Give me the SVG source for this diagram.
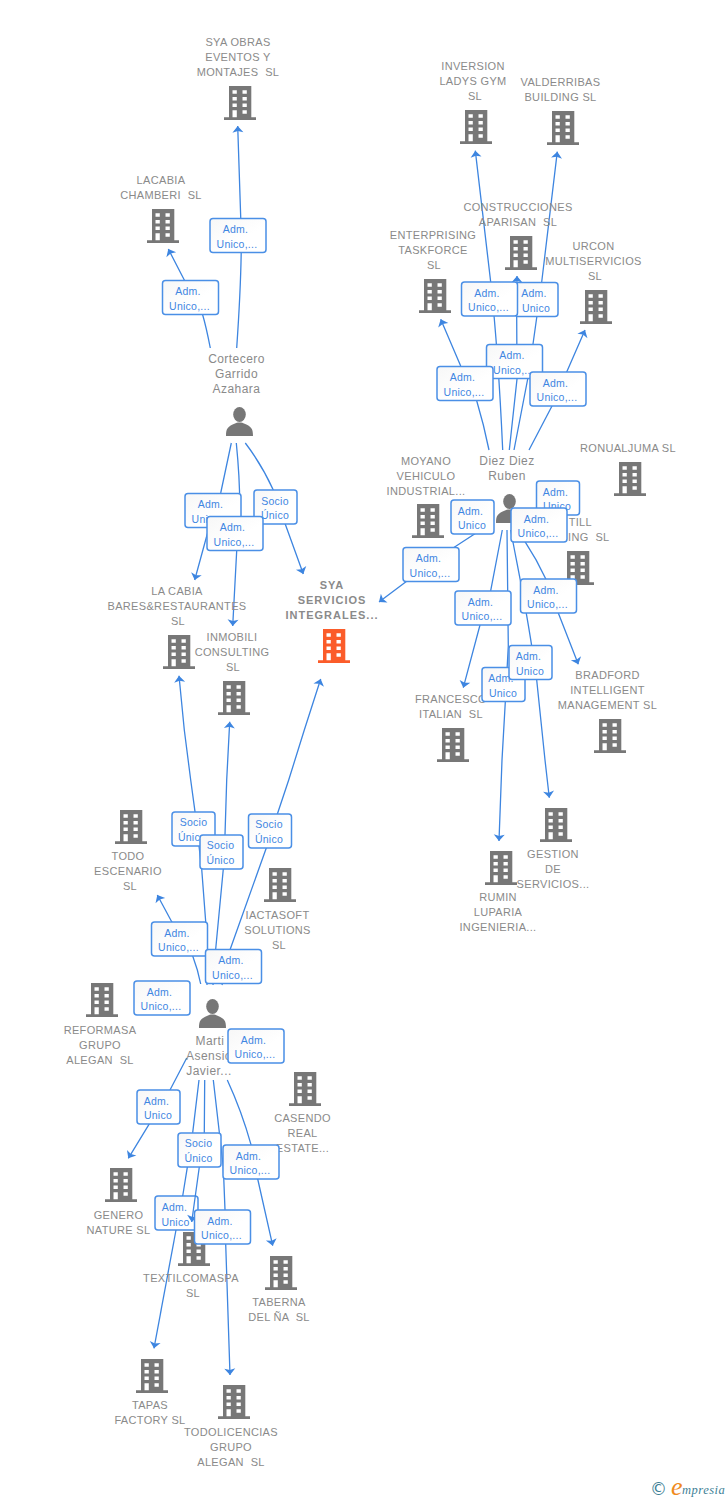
<svg xmlns="http://www.w3.org/2000/svg" width="728" height="1500" viewBox="0 0 728 1500">
<style>
text{font-family:"Liberation Sans",Arial,sans-serif;white-space:pre}
.l{font-size:11px;fill:#8a8a8a;text-anchor:middle;letter-spacing:.33px}
.p{font-size:12px;fill:#8a8a8a;text-anchor:middle;letter-spacing:.45px}
.m{font-size:11px;fill:#8a8a8a;text-anchor:middle;font-weight:bold;letter-spacing:1px}
.e{fill:none;stroke:#3d85e0;stroke-width:1.3;marker-end:url(#a)}
.s{fill:none;stroke:#3d85e0;stroke-width:1.3}
.b{fill:url(#g);stroke:#4a8fe6;stroke-width:1.5}
.t{font-size:10.500px;fill:#3f86e2;text-anchor:middle;letter-spacing:.25px}
.i{fill:#777}
.o{fill:#fb5c2a}
</style>
<defs>
<linearGradient id="g" x1="0" y1="0" x2="1" y2="1"><stop offset="0" stop-color="#f7f7f7"/><stop offset=".6" stop-color="#fff"/></linearGradient>
<marker id="a" markerUnits="userSpaceOnUse" viewBox="-10 -7 14 14" refX="0" refY="0" markerWidth="14" markerHeight="14" orient="auto"><path d="M0 0L-6.5-5.500L-5 0L-6.5 5.500Z" fill="#3d85e0"/></marker>
<symbol id="b" viewBox="0 0 32 34" width="32" height="34" overflow="visible"><path fill-rule="evenodd" d="M5 0H27.3V31.300H32V34H0V31.300H5ZM8.500 4.200V7.800H12.800V4.200ZM18.500 4.200V7.800H22.800V4.200ZM8.500 10.900V14.500H12.800V10.900ZM18.500 10.900V14.500H22.800V10.900ZM8.500 17.500V21.100H12.800V17.500ZM18.500 17.500V21.100H22.800V17.500ZM8.500 24.200V31.300H12.800V24.200ZM18.500 24.200V27.800H22.800V24.200Z"/></symbol>
<symbol id="h" viewBox="0 0 27 29" width="27" height="29"><ellipse cx="13.500" cy="7.500" rx="6.300" ry="7.500"/><path d="M0 29C0 21 2 19.500 9 16.500C10 15 17 15 18 16.500C25 19.500 27 21 27 29Z"/></symbol>
</defs>
<rect width="728" height="1500" fill="#fff"/>

<g id="label-under">
<g id="lb-tapas"><rect class="b" x="155" y="1196" width="43" height="34" rx="3"/><text class="t" x="174.500" y="1211">Adm.</text><text class="t" x="175.500" y="1225.500">Unico</text></g>
</g>

<g id="connectors">
<path class="e" d="M236.700 348C240 300 241.500 270 241.300 235L237.700 126"/>
<path class="e" d="M210.300 348Q206 326 202.700 315L184.300 280L168.300 249"/>
<path class="e" d="M502.700 450C500 390 497 340 490.700 282L475.300 150.700"/>
<path class="e" d="M514 450L527.700 379L533 344L541.700 282L557.300 151.700"/>
<path class="e" d="M509.300 450L517 379L516.700 317L517 276"/>
<path class="e" d="M489 450Q484 425 476.700 400.700L460.700 366L440.700 319.300"/>
<path class="e" d="M529 450L552 406L566.700 372L585 330"/>
<path class="e" d="M480.700 530L455 546.700L406 581.700L379 602"/>
<path class="e" d="M502.300 530L490.700 590.700L480 625L463.300 687.700"/>
<path class="e" d="M507 530L508.300 646L505.300 702L502 760L499 841"/>
<path class="e" d="M510.700 530C520 580 528 615 536.700 680L545 760L549.300 797.700"/>
<path class="e" d="M525 541.700Q537 560 545.700 578.700L558.300 613L578.300 664.300"/>
<path class="e" d="M231.300 443L220.700 493L207 535L194.700 580"/>
<path class="e" d="M236.300 443Q240 480 239.700 510L236.700 550.700L232.700 626"/>
<path class="e" d="M245.300 443Q262 465 273.300 490L285.300 524.300L303.300 574"/>
<path class="e" d="M207 985L205.700 921.700L201.700 869L195 811.700L190.700 780L184.300 730L179 675.700"/>
<path class="e" d="M213 985L215.700 949L223.300 869L225 834.700L226.700 780L229.700 721.700"/>
<path class="e" d="M222 985L230.300 949L266.300 848L277.700 813L288.700 780L304.300 730L320.700 679"/>
<path class="e" d="M200.700 984Q198 970 192.700 956L171.700 921.700L157.300 895"/>
<path class="e" d="M186.700 1058L170 1090L149 1124.300L128.300 1158.300"/>
<path class="s" d="M199 1080L192.700 1132.700L187.300 1167.300L182.700 1196"/>
<path class="e" d="M176 1230L154 1348.300"/>
<path class="e" d="M204.700 1080L204.300 1132.700L199.300 1167L191.700 1222"/>
<path class="e" d="M213.300 1080L223.300 1167L225 1209.700L225.700 1244L230 1375"/>
<path class="e" d="M227.300 1080Q242 1112 251 1144.700L257.700 1179L272.700 1245.700"/>
</g>

<g id="n-sya-obras"><use href="#b" class="i" x="224" y="86"/><text class="l"><tspan x="238" y="46">SYA OBRAS</tspan><tspan x="238" y="61">EVENTOS Y</tspan><tspan x="238" y="76">MONTAJES  SL</tspan></text></g>
<g id="n-lacabia"><use href="#b" class="i" x="147" y="209"/><text class="l"><tspan x="161" y="184">LACABIA</tspan><tspan x="161" y="199">CHAMBERI  SL</tspan></text></g>
<g id="n-cortecero"><use href="#h" class="i" x="226" y="407"/><text class="p"><tspan x="236.500" y="363">Cortecero</tspan><tspan x="236.500" y="378">Garrido</tspan><tspan x="236.500" y="393">Azahara</tspan></text></g>
<g id="n-inversion"><use href="#b" class="i" x="460" y="110"/><text class="l"><tspan x="473" y="70">INVERSION</tspan><tspan x="473" y="85">LADYS GYM</tspan><tspan x="475" y="100">SL</tspan></text></g>
<g id="n-valderribas"><use href="#b" class="i" x="547" y="111"/><text class="l"><tspan x="560.500" y="86">VALDERRIBAS</tspan><tspan x="560.500" y="101">BUILDING SL</tspan></text></g>
<g id="n-construcciones"><use href="#b" class="i" x="505" y="236"/><text class="l"><tspan x="518" y="211">CONSTRUCCIONES</tspan><tspan x="518" y="226">APARISAN  SL</tspan></text></g>
<g id="n-enterprising"><use href="#b" class="i" x="419" y="279"/><text class="l"><tspan x="433" y="239">ENTERPRISING</tspan><tspan x="433" y="254">TASKFORCE</tspan><tspan x="434" y="269">SL</tspan></text></g>
<g id="n-urcon"><use href="#b" class="i" x="580" y="290"/><text class="l"><tspan x="593.500" y="250">URCON</tspan><tspan x="593.500" y="265">MULTISERVICIOS</tspan><tspan x="595" y="280">SL</tspan></text></g>
<g id="n-ronualjuma"><use href="#b" class="i" x="614" y="462"/><text class="l"><tspan x="628" y="452">RONUALJUMA SL</tspan></text></g>
<g id="n-moyano"><use href="#b" class="i" x="412" y="504"/><text class="l"><tspan x="426" y="465">MOYANO</tspan><tspan x="426" y="480">VEHICULO</tspan><tspan x="426" y="495">INDUSTRIAL...</tspan></text></g>
<g id="n-diez"><use href="#h" class="i" x="496" y="494"/><text class="p"><tspan x="507" y="465">Diez Diez</tspan><tspan x="507" y="480">Ruben</tspan></text></g>
<g id="n-till"><use href="#b" class="i" x="562" y="551"/><text class="l" style="text-anchor:end"><tspan x="592" y="526">TILL</tspan><tspan x="609.500" y="541">ING  SL</tspan></text></g>
<g id="n-bradford"><use href="#b" class="i" x="594" y="719"/><text class="l"><tspan x="607.500" y="679">BRADFORD</tspan><tspan x="607.500" y="694">INTELLIGENT</tspan><tspan x="607.500" y="709">MANAGEMENT SL</tspan></text></g>
<g id="n-francesco"><use href="#b" class="i" x="437" y="728"/><text class="l"><tspan x="451" y="703">FRANCESCO</tspan><tspan x="451" y="718">ITALIAN  SL</tspan></text></g>
<g id="n-rumin"><use href="#b" class="i" x="485" y="851"/><text class="l"><tspan x="498" y="901">RUMIN</tspan><tspan x="498" y="916">LUPARIA</tspan><tspan x="498" y="931">INGENIERIA...</tspan></text></g>
<g id="n-gestion"><use href="#b" class="i" x="540" y="808"/><text class="l"><tspan x="553" y="858">GESTION</tspan><tspan x="553" y="873">DE</tspan><tspan x="553" y="888">SERVICIOS...</tspan></text></g>
<g id="n-sya-main"><use href="#b" class="o" x="318" y="629"/><text class="m"><tspan x="332" y="589">SYA</tspan><tspan x="332" y="604">SERVICIOS</tspan><tspan x="332" y="619">INTEGRALES...</tspan></text></g>
<g id="n-la-cabia"><use href="#b" class="i" x="163" y="635"/><text class="l"><tspan x="177" y="595">LA CABIA</tspan><tspan x="177" y="610">BARES&amp;RESTAURANTES</tspan><tspan x="178" y="625">SL</tspan></text></g>
<g id="n-inmobili"><use href="#b" class="i" x="218" y="681"/><text class="l"><tspan x="232" y="641">INMOBILI</tspan><tspan x="232" y="656">CONSULTING</tspan><tspan x="233" y="671">SL</tspan></text></g>
<g id="n-todo"><use href="#b" class="i" x="115" y="810"/><text class="l"><tspan x="128" y="860">TODO</tspan><tspan x="128" y="875">ESCENARIO</tspan><tspan x="130" y="890">SL</tspan></text></g>
<g id="n-iactasoft"><use href="#b" class="i" x="264" y="868"/><text class="l"><tspan x="277.500" y="919">IACTASOFT</tspan><tspan x="277.500" y="934">SOLUTIONS</tspan><tspan x="279" y="949">SL</tspan></text></g>
<g id="n-reformasa"><use href="#b" class="i" x="86" y="983"/><text class="l"><tspan x="100" y="1034">REFORMASA</tspan><tspan x="100" y="1049">GRUPO</tspan><tspan x="100" y="1064">ALEGAN  SL</tspan></text></g>
<g id="n-marti"><use href="#h" class="i" x="199" y="999"/><text class="p"><tspan x="210" y="1045">Marti</tspan><tspan x="209" y="1060">Asensio</tspan><tspan x="209" y="1075">Javier...</tspan></text></g>
<g id="n-casendo"><use href="#b" class="i" x="289" y="1072"/><text class="l"><tspan x="302.500" y="1122">CASENDO</tspan><tspan x="302.500" y="1137">REAL</tspan><tspan x="302.500" y="1152">ESTATE...</tspan></text></g>
<g id="n-genero"><use href="#b" class="i" x="105" y="1168"/><text class="l"><tspan x="118.500" y="1219">GENERO</tspan><tspan x="118.500" y="1234">NATURE SL</tspan></text></g>
<g id="n-textilcomaspa"><use href="#b" class="i" x="178" y="1232"/><text class="l"><tspan x="191" y="1282">TEXTILCOMASPA</tspan><tspan x="193" y="1297">SL</tspan></text></g>
<g id="n-taberna"><use href="#b" class="i" x="265" y="1256"/><text class="l"><tspan x="279" y="1306">TABERNA</tspan><tspan x="279" y="1321">DEL ÑA  SL</tspan></text></g>
<g id="n-tapas"><use href="#b" class="i" x="136" y="1359"/><text class="l"><tspan x="150" y="1409">TAPAS</tspan><tspan x="150" y="1424">FACTORY SL</tspan></text></g>
<g id="n-todolicencias"><use href="#b" class="i" x="218" y="1385"/><text class="l"><tspan x="231" y="1436">TODOLICENCIAS</tspan><tspan x="231" y="1451">GRUPO</tspan><tspan x="231" y="1466">ALEGAN  SL</tspan></text></g>

<g id="labels">
<g><rect class="b" x="210" y="218.500" width="56" height="34" rx="3"/><text class="t" x="235.500" y="233">Adm.</text><text class="t" x="237" y="247.500">Unico,...</text></g>
<g><rect class="b" x="162.500" y="280.500" width="56" height="34" rx="3"/><text class="t" x="188" y="295">Adm.</text><text class="t" x="189.500" y="309.500">Unico,...</text></g>
<g><rect class="b" x="515" y="282.500" width="43" height="34" rx="3"/><text class="t" x="534" y="297">Adm.</text><text class="t" x="536" y="311.500">Unico</text></g>
<g><rect class="b" x="461.500" y="282" width="56" height="34" rx="3"/><text class="t" x="487" y="296.500">Adm.</text><text class="t" x="488.500" y="311">Unico,...</text></g>
<g><rect class="b" x="486.500" y="344.500" width="56" height="34" rx="3"/><text class="t" x="512" y="359">Adm.</text><text class="t" x="513.500" y="373.500">Unico,...</text></g>
<g><rect class="b" x="437" y="366.500" width="56" height="34" rx="3"/><text class="t" x="462.500" y="381">Adm.</text><text class="t" x="464" y="395.500">Unico,...</text></g>
<g><rect class="b" x="530" y="372" width="56" height="34" rx="3"/><text class="t" x="555.500" y="386.500">Adm.</text><text class="t" x="557" y="401">Unico,...</text></g>
<g><rect class="b" x="536.500" y="481" width="43" height="34" rx="3"/><text class="t" x="555.500" y="495.500">Adm.</text><text class="t" x="557" y="510">Unico</text></g>
<g><rect class="b" x="451" y="500" width="43" height="34" rx="3"/><text class="t" x="470.500" y="514.500">Adm.</text><text class="t" x="472" y="529">Unico</text></g>
<g><rect class="b" x="511" y="508" width="56" height="34" rx="3"/><text class="t" x="536.500" y="522.500">Adm.</text><text class="t" x="538" y="537">Unico,...</text></g>
<g><rect class="b" x="403" y="547.500" width="56" height="34" rx="3"/><text class="t" x="428.500" y="562">Adm.</text><text class="t" x="430" y="576.500">Unico,...</text></g>
<g><rect class="b" x="455" y="591" width="56" height="34" rx="3"/><text class="t" x="480.500" y="605.500">Adm.</text><text class="t" x="482" y="620">Unico,...</text></g>
<g><rect class="b" x="520.500" y="579" width="56" height="34" rx="3"/><text class="t" x="546" y="593.500">Adm.</text><text class="t" x="547.500" y="608">Unico,...</text></g>
<g><rect class="b" x="482" y="667.500" width="43" height="34" rx="3"/><text class="t" x="501" y="682">Adm.</text><text class="t" x="503" y="696.500">Unico</text></g>
<g><rect class="b" x="509" y="645.500" width="43" height="34" rx="3"/><text class="t" x="528.500" y="660">Adm.</text><text class="t" x="530" y="674.500">Unico</text></g>
<g><rect class="b" x="185" y="493.500" width="56" height="34" rx="3"/><text class="t" x="210.500" y="508">Adm.</text><text class="t" x="212" y="522.500">Unico,...</text></g>
<g><rect class="b" x="254" y="490" width="43" height="34" rx="3"/><text class="t" x="275" y="504.500">Socio</text><text class="t" x="275" y="519">Único</text></g>
<g><rect class="b" x="207" y="516.500" width="56" height="34" rx="3"/><text class="t" x="232.500" y="531">Adm.</text><text class="t" x="234" y="545.500">Unico,...</text></g>
<g><rect class="b" x="172" y="812" width="43" height="34" rx="3"/><text class="t" x="193.500" y="826">Socio</text><text class="t" x="192" y="840.500">Único</text></g>
<g><rect class="b" x="200" y="835" width="43" height="34" rx="3"/><text class="t" x="220.500" y="849">Socio</text><text class="t" x="220.500" y="863.500">Único</text></g>
<g><rect class="b" x="248.500" y="814" width="43" height="34" rx="3"/><text class="t" x="269" y="828">Socio</text><text class="t" x="269" y="842.500">Único</text></g>
<g><rect class="b" x="151.500" y="922" width="56" height="34" rx="3"/><text class="t" x="177" y="936.500">Adm.</text><text class="t" x="178.500" y="951">Unico,...</text></g>
<g><rect class="b" x="205.500" y="949.500" width="56" height="34" rx="3"/><text class="t" x="231" y="964">Adm.</text><text class="t" x="232.500" y="978.500">Unico,...</text></g>
<g><rect class="b" x="134" y="981" width="56" height="34" rx="3"/><text class="t" x="159.500" y="995.500">Adm.</text><text class="t" x="161" y="1010">Unico,...</text></g>
<g><rect class="b" x="228" y="1029" width="56" height="34" rx="3"/><text class="t" x="253.500" y="1043.500">Adm.</text><text class="t" x="255" y="1058">Unico,...</text></g>
<g><rect class="b" x="137" y="1090" width="43" height="34" rx="3"/><text class="t" x="156.500" y="1104.500">Adm.</text><text class="t" x="158" y="1119">Unico</text></g>
<g><rect class="b" x="178" y="1133" width="43" height="34" rx="3"/><text class="t" x="198.500" y="1147">Socio</text><text class="t" x="198.500" y="1161.500">Único</text></g>
<g><rect class="b" x="223" y="1145" width="56" height="34" rx="3"/><text class="t" x="248.500" y="1159.500">Adm.</text><text class="t" x="250" y="1174">Unico,...</text></g>
<g><rect class="b" x="194.500" y="1210" width="56" height="34" rx="3"/><text class="t" x="220" y="1224.500">Adm.</text><text class="t" x="221.500" y="1239">Unico,...</text></g>
</g>

<g id="logo">
<text x="650" y="1495" style="font-family:'DejaVu Sans',sans-serif;font-size:17px;fill:#3e7f96">©</text>
<text x="671" y="1495" style="font-family:'Liberation Serif',serif;font-style:italic;font-size:26px;fill:#f08a1d">e</text>
<text x="682" y="1494" style="font-family:'Liberation Serif',serif;font-style:italic;font-size:12.500px;fill:#3e7f96;letter-spacing:.5px">mpresia</text>
</g>
</svg>
